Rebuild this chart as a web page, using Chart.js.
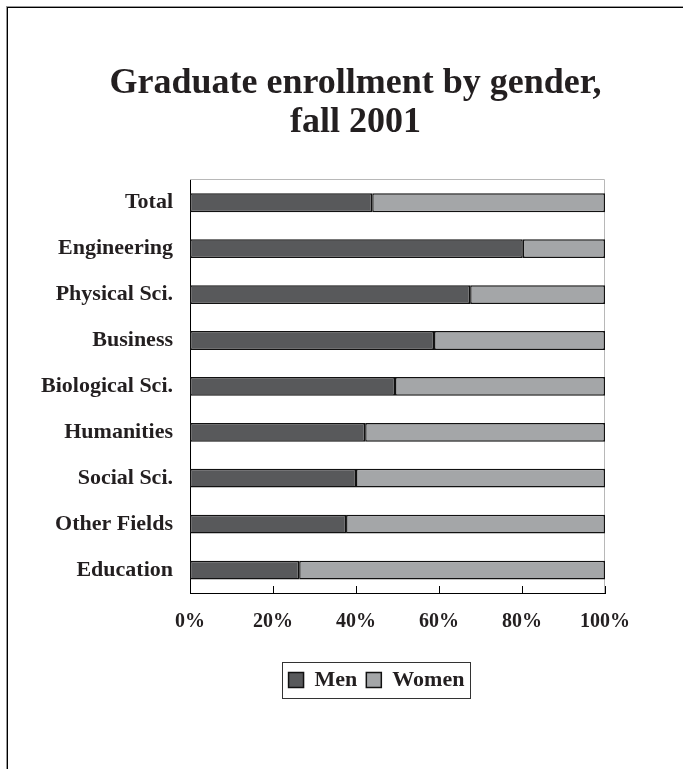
<!DOCTYPE html>
<html>
<head>
<meta charset="utf-8">
<title>Graduate enrollment by gender, fall 2001</title>
<script src="https://cdn.jsdelivr.net/npm/chart.js@4.4.0/dist/chart.umd.min.js"></script>
<style>
  html, body { margin: 0; padding: 0; background: #fff; overflow: hidden; }
  #frame {
    position: absolute; left: 7px; top: 7px; width: 720px; height: 800px;
    border-top: 1px solid #000; border-left: 1px solid #000;
    box-shadow: -1px -1px 0 #999;
  }
  #wrap { position: absolute; left: 0; top: 0; width: 683px; height: 769px; }
</style>
</head>
<body>
<div id="frame"></div>
<div id="wrap"><canvas id="enrollment-chart"></canvas></div>
<script>
// Share of graduate students by field (percent)
const fields = ['Total', 'Engineering', 'Physical Sci.', 'Business', 'Biological Sci.',
                'Humanities', 'Social Sci.', 'Other Fields', 'Education'];
const menShare   = [43.9, 80.2, 67.5, 58.8, 49.4, 42.2, 40.0, 37.6, 26.3];
const womenShare = [56.1, 19.8, 32.5, 41.2, 50.6, 57.8, 60.0, 62.4, 73.7];
const percentTicks = [0, 20, 40, 60, 80, 100];

const SERIF = 'Liberation Serif, Times New Roman, serif';
const INK = '#231f20';

// Extra bits: plot frame, inward x ticks, legend box, and title/legend offsets
const frameBits = {
  id: 'frameBits',
  afterLayout(chart, args, opts) {
    chart.titleBlock.left += opts.titleShift;
    chart.titleBlock.right += opts.titleShift;
    chart.legend.left += opts.legendShift;
    chart.legend.right += opts.legendShift;
  },
  beforeDatasetsDraw(chart) {
    const { ctx, chartArea: a } = chart;
    ctx.save();
    ctx.strokeStyle = '#b8b8b8';
    ctx.lineWidth = 1;
    ctx.beginPath();
    ctx.moveTo(a.left, Math.round(a.top) - 0.5);
    ctx.lineTo(Math.round(a.right) - 0.5, Math.round(a.top) - 0.5);
    ctx.lineTo(Math.round(a.right) - 0.5, a.bottom);
    ctx.stroke();
    ctx.restore();
  },
  afterDraw(chart) {
    const { ctx } = chart;
    const x = chart.scales.x;
    ctx.save();
    ctx.strokeStyle = '#000';
    ctx.lineWidth = 1;
    ctx.beginPath();
    x.ticks.forEach(t => {
      const px = Math.round(x.getPixelForValue(t.value)) + 0.5;
      ctx.moveTo(px, x.top);
      ctx.lineTo(px, x.top - 7);
    });
    ctx.stroke();

    const boxes = chart.legend.legendHitBoxes;
    if (boxes && boxes.length) {
      const first = boxes[0];
      const last = boxes[boxes.length - 1];
      const mid = first.top + first.height / 2;
      const left = Math.round(first.left - 7) + 0.5;
      const right = Math.round(last.left + last.width + 6) + 0.5;
      ctx.strokeStyle = '#333';
      ctx.strokeRect(left, Math.round(mid - 18) + 0.5, right - left, 36);
    }
    ctx.restore();
  }
};

const ctx = document.getElementById('enrollment-chart').getContext('2d');
new Chart(ctx, {
  type: 'bar',
  data: {
    labels: fields,
    datasets: [
      { label: 'Men', data: menShare, backgroundColor: '#58595b',
        borderColor: '#111', borderWidth: 1.5, borderSkipped: false },
      { label: 'Women', data: womenShare, backgroundColor: '#a4a6a8',
        borderColor: '#111', borderWidth: 1.5, borderSkipped: false }
    ]
  },
  options: {
    indexAxis: 'y',
    responsive: true,
    maintainAspectRatio: false,
    animation: false,
    layout: { padding: { left: 20, right: 78, top: 0, bottom: 68 } },
    datasets: { bar: { barPercentage: 0.41, categoryPercentage: 1 } },
    scales: {
      x: {
        stacked: true, min: 0, max: 100,
        afterBuildTicks: s => { s.ticks = percentTicks.map(v => ({ value: v })); },
        afterFit: s => { s.height = 67; },
        grid: { display: false, drawTicks: false },
        border: { color: '#000', width: 1 },
        ticks: {
          padding: 17, color: INK, maxRotation: 0, autoSkip: false,
          font: { family: SERIF, size: 20, weight: 'bold' },
          callback: v => v + '%'
        }
      },
      y: {
        stacked: true,
        afterFit: s => { s.width = 170; },
        grid: { display: false, drawTicks: false },
        border: { color: '#000', width: 1 },
        ticks: { padding: 17, color: INK, font: { family: SERIF, size: 22, weight: 'bold' } }
      }
    },
    plugins: {
      title: {
        display: true,
        text: ['Graduate enrollment by gender,', 'fall 2001'],
        color: INK,
        font: { family: SERIF, size: 36, weight: 'bold', lineHeight: 1.08 },
        padding: { top: 64, bottom: 38 }
      },
      legend: {
        position: 'bottom',
        labels: {
          boxWidth: 15, boxHeight: 15, padding: 9, color: INK,
          font: { family: SERIF, size: 22, weight: 'bold' }
        }
      },
      tooltip: { enabled: false },
      frameBits: { titleShift: 43, legendShift: 64 }
    }
  },
  plugins: [frameBits]
});
</script>
</body>
</html>
